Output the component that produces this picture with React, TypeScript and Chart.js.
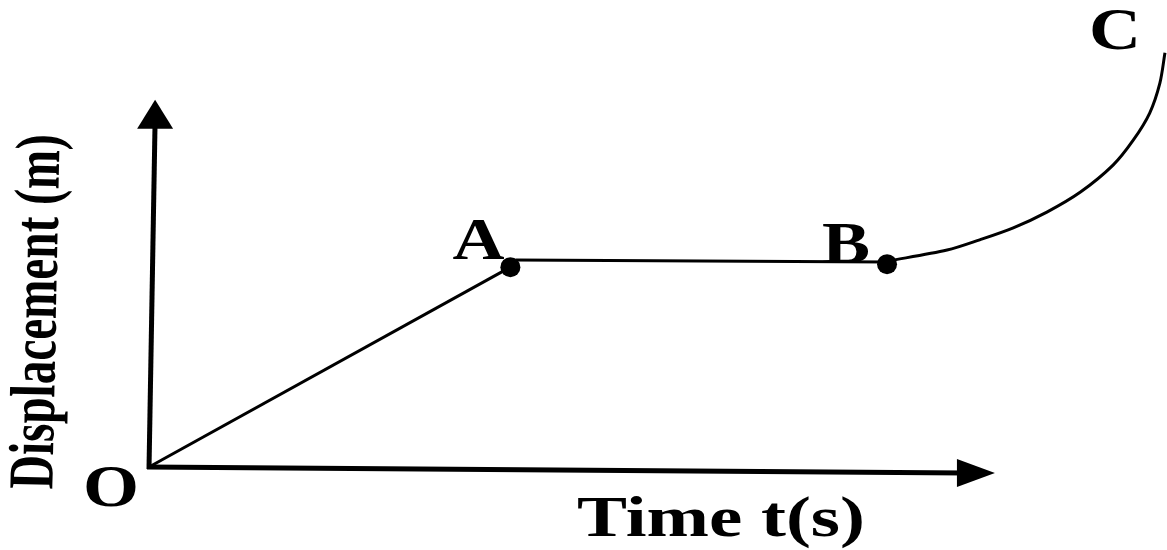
import React, { useEffect, useRef } from "react";
import { Chart, registerables } from "chart.js";

Chart.register(...registerables);

// Segment O → A (uniform velocity)
const oaTime = [0, 3.55];
const oaDisp = [0, 4.68];
// Segment A → B (at rest)
const abTime = [3.6, 7.25];
const abDisp = [4.85, 4.8];
// Segment B → C (accelerating, curved)
const bcTime = [7.25, 7.84, 8.16, 8.49, 8.82, 9.15, 9.47, 9.67, 9.83, 9.93, 9.98];
const bcDisp = [4.82, 5.08, 5.32, 5.6, 5.97, 6.44, 7.07, 7.66, 8.29, 8.99, 9.7];
// Marked points
const dotNames = ["A", "B"];
const dotTime = [3.55, 7.25];
const dotDisp = [4.68, 4.75];
// Axis arrow tips (data units)
const xAxisTip = [8.31, -0.14];
const yAxisTip = [0.06, 8.6];
// Text
const xTitle = "Time t(s)";
const yTitle = "Displacement (m)";
const originName = "O";
const endName = "C";

const toPts = (xs: number[], ys: number[]) => xs.map((x, i) => ({ x, y: ys[i] }));

const FONT = '"Liberation Serif", serif';

const decorPlugin = {
  id: "decor",
  afterDatasetsDraw(chart: any) {
    const ctx: CanvasRenderingContext2D = chart.ctx;
    const xs = chart.scales.x;
    const ys = chart.scales.y;
    const ox = xs.getPixelForValue(0);
    const oy = ys.getPixelForValue(0);
    ctx.save();
    ctx.strokeStyle = "#000";
    ctx.fillStyle = "#000";
    ctx.lineWidth = 5;
    ctx.lineCap = "butt";

    // Y axis
    const ytx = xs.getPixelForValue(yAxisTip[0]);
    const yty = ys.getPixelForValue(yAxisTip[1]);
    ctx.beginPath();
    ctx.moveTo(ox, oy + 2);
    ctx.lineTo(ytx, yty + 20);
    ctx.stroke();
    ctx.beginPath();
    ctx.moveTo(ytx, yty);
    ctx.lineTo(ytx - 18, yty + 29);
    ctx.lineTo(ytx + 18, yty + 29);
    ctx.closePath();
    ctx.fill();

    // X axis
    const xtx = xs.getPixelForValue(xAxisTip[0]);
    const xty = ys.getPixelForValue(xAxisTip[1]);
    ctx.beginPath();
    ctx.moveTo(ox - 2, oy);
    ctx.lineTo(xtx - 30, xty);
    ctx.stroke();
    ctx.beginPath();
    ctx.moveTo(xtx, xty);
    ctx.lineTo(xtx - 38, xty - 14);
    ctx.lineTo(xtx - 38, xty + 14);
    ctx.closePath();
    ctx.fill();

    const letter = (t: string, cx: number, by: number) => {
      ctx.save();
      ctx.font = `bold 60px ${FONT}`;
      ctx.textAlign = "center";
      ctx.textBaseline = "alphabetic";
      ctx.translate(cx, by);
      ctx.scale(1.2, 1);
      ctx.fillText(t, 0, 0);
      ctx.restore();
    };

    // Point labels
    letter(originName, ox - 38, oy + 39);
    const offs = [
      [-32, -8],
      [-41, -1],
    ];
    dotNames.forEach((n, i) => {
      const px = xs.getPixelForValue(dotTime[i]);
      const py = ys.getPixelForValue(dotDisp[i]);
      letter(n, px + offs[i][0], py + offs[i][1]);
    });
    const last = bcTime.length - 1;
    letter(
      endName,
      xs.getPixelForValue(bcTime[last]) - 50,
      ys.getPixelForValue(bcDisp[last]) - 4
    );

    // X title
    ctx.save();
    ctx.font = `bold 57px ${FONT}`;
    ctx.textAlign = "center";
    ctx.textBaseline = "alphabetic";
    const xw = ctx.measureText(xTitle).width;
    ctx.translate(721, 536);
    ctx.scale(288 / xw, 1);
    ctx.fillText(xTitle, 0, 0);
    ctx.restore();

    // Y title
    ctx.save();
    ctx.font = `bold 64px ${FONT}`;
    ctx.textAlign = "center";
    ctx.textBaseline = "alphabetic";
    const yw = ctx.measureText(yTitle).width;
    ctx.translate(56, 312);
    ctx.rotate(-Math.PI / 2 + (1.2 * Math.PI) / 180);
    ctx.scale(355 / yw, 1);
    ctx.fillText(yTitle, 0, 0);
    ctx.restore();

    ctx.restore();
  },
};

export default function App() {
  const ref = useRef<HTMLCanvasElement | null>(null);

  useEffect(() => {
    let chart: Chart | null = null;
    let cancelled = false;
    const build = () => {
      if (cancelled || !ref.current) return;
      chart = new Chart(ref.current, {
        type: "scatter",
        data: {
          datasets: [
            {
              data: toPts(oaTime, oaDisp),
              showLine: true,
              borderColor: "#000",
              borderWidth: 3,
              pointRadius: 0,
              clip: false,
            },
            {
              data: toPts(abTime, abDisp),
              showLine: true,
              borderColor: "#000",
              borderWidth: 3,
              pointRadius: 0,
              clip: false,
            },
            {
              data: toPts(bcTime, bcDisp),
              showLine: true,
              borderColor: "#000",
              borderWidth: 3,
              pointRadius: 0,
              tension: 0.3,
              clip: false,
            },
            {
              data: toPts(dotTime, dotDisp),
              showLine: false,
              pointRadius: 10,
              pointBackgroundColor: "#000",
              pointBorderColor: "#000",
              pointBorderWidth: 0,
              clip: false,
            },
          ],
        },
        options: {
          animation: false,
          responsive: false,
          events: [],
          layout: { autoPadding: false, padding: { left: 149, right: 0, top: 40, bottom: 83 } },
          plugins: { legend: { display: false }, tooltip: { enabled: false } },
          scales: {
            x: { type: "linear", min: 0, max: 10, display: false },
            y: { type: "linear", min: 0, max: 10, display: false },
          },
        },
        plugins: [decorPlugin],
      });
    };
    const fontsApi: any = (document as any).fonts;
    if (fontsApi && fontsApi.load) {
      Promise.all([fontsApi.load('bold 60px "Liberation Serif"')])
        .catch(() => null)
        .then(build);
    } else {
      build();
    }
    return () => {
      cancelled = true;
      if (chart) chart.destroy();
    };
  }, []);

  return (
    <div style={{ position: "absolute", left: 0, top: 0, width: 1167, height: 550, background: "#fff" }}>
      <canvas ref={ref} width={1167} height={550} />
    </div>
  );
}
